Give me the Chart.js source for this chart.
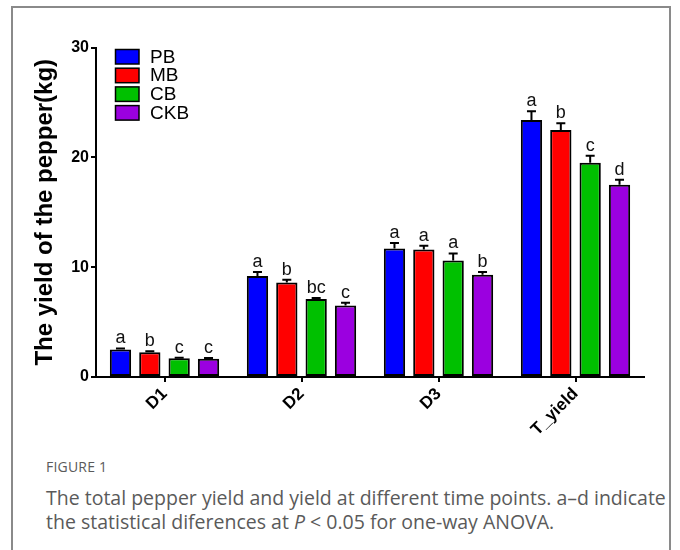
<!DOCTYPE html>
<html>
<head>
<meta charset="utf-8">
<script src="https://cdn.jsdelivr.net/npm/chart.js@4.4.1/dist/chart.umd.min.js"></script>
<style>
  html, body { margin: 0; padding: 0; background: #fff; }
  body { width: 680px; height: 550px; position: relative; overflow: hidden; }
  #frame {
    position: absolute; left: 11px; top: 6px; width: 660px; height: 560px;
    border: 2px solid #8a8a8a; box-sizing: border-box;
  }
  #chart { position: absolute; left: 0; top: 0; }
  #caption {
    position: absolute; left: 46px; top: 457px; width: 625px;
    font-family: "Open Sans", "Noto Sans", sans-serif; color: #5a5a5a;
  }
  #caption .fig { font-size: 14px; letter-spacing: 0.2px; line-height: 20px; }
  #caption .txt { font-size: 19.5px; line-height: 24px; margin-top: 9px; white-space: nowrap; }
</style>
</head>
<body>
<div id="frame"></div>
<canvas id="chart" width="680" height="440"></canvas>
<div id="caption">
  <div class="fig">FIGURE 1</div>
  <div class="txt">The total pepper yield and yield at different time points. a–d indicate<br>the statistical diferences at <i>P</i> &lt; 0.05 for one-way ANOVA.</div>
</div>
<script>
// Harvest periods and treatments
const categories = ["D1", "D2", "D3", "T_yield"];
const treatments = ["PB", "MB", "CB", "CKB"];
const colors = ["#0000ff", "#ff0000", "#00c000", "#9b00e0"];

// Mean yield (kg)
const pbValues  = [2.5, 9.2, 11.7, 23.4];
const mbValues  = [2.25, 8.6, 11.6, 22.5];
const cbValues  = [1.7, 7.1, 10.6, 19.5];
const ckbValues = [1.67, 6.5, 9.3, 17.5];

// Standard error (upper whisker)
const pbErrors  = [0.1, 0.35, 0.5, 0.8];
const mbErrors  = [0.1, 0.25, 0.35, 0.6];
const cbErrors  = [0.05, 0.1, 0.65, 0.65];
const ckbErrors = [0.07, 0.27, 0.25, 0.45];

// Significance letters (one-way ANOVA, P < 0.05)
const pbLetters  = ["a", "a", "a", "a"];
const mbLetters  = ["b", "b", "a", "b"];
const cbLetters  = ["c", "bc", "a", "c"];
const ckbLetters = ["c", "c", "b", "d"];

const yTicks = [0, 10, 20, 30];

const seriesValues = [pbValues, mbValues, cbValues, ckbValues];
const seriesErrors = [pbErrors, mbErrors, cbErrors, ckbErrors];
const seriesLetters = [pbLetters, mbLetters, cbLetters, ckbLetters];

const FONT = '"Liberation Sans", Arial, Helvetica, sans-serif';

// Whiskers with caps, and letters above them
const errorBarPlugin = {
  id: 'errorBars',
  afterDatasetsDraw(chart) {
    const ctx = chart.ctx;
    const y = chart.scales.y;
    ctx.save();
    chart.data.datasets.forEach((ds, i) => {
      const meta = chart.getDatasetMeta(i);
      meta.data.forEach((bar, j) => {
        const top = y.getPixelForValue(ds.data[j]);
        const errTop = y.getPixelForValue(ds.data[j] + ds.errors[j]);
        ctx.strokeStyle = '#000';
        ctx.lineWidth = 2;
        ctx.beginPath();
        ctx.moveTo(bar.x, top);
        ctx.lineTo(bar.x, errTop);
        ctx.moveTo(bar.x - 4.5, errTop);
        ctx.lineTo(bar.x + 4.5, errTop);
        ctx.stroke();
        ctx.fillStyle = '#111';
        ctx.font = '18px ' + FONT;
        ctx.textAlign = 'center';
        ctx.textBaseline = 'alphabetic';
        ctx.fillText(ds.letters[j], bar.x, errTop - 5);
      });
    });
    ctx.restore();
  }
};

// Legend in the upper-left of the plot
const legendPlugin = {
  id: 'boxLegend',
  afterDraw(chart) {
    const ctx = chart.ctx;
    ctx.save();
    chart.data.datasets.forEach((ds, i) => {
      const top = 49.5 + i * 18.7;
      ctx.fillStyle = ds.backgroundColor;
      ctx.fillRect(115.5, top, 23.5, 14.5);
      ctx.strokeStyle = '#000';
      ctx.lineWidth = 1.5;
      ctx.strokeRect(115.5, top, 23.5, 14.5);
      ctx.fillStyle = '#000';
      ctx.font = '19px ' + FONT;
      ctx.textAlign = 'left';
      ctx.textBaseline = 'middle';
      ctx.fillText(ds.label, 150, top + 8);
    });
    ctx.restore();
  }
};

const datasets = treatments.map((name, i) => ({
  label: name,
  data: seriesValues[i],
  errors: seriesErrors[i],
  letters: seriesLetters[i],
  backgroundColor: colors[i],
  borderColor: '#000',
  borderWidth: 2,
  borderSkipped: false,
  categoryPercentage: 0.857,
  barPercentage: 0.725
}));

new Chart(document.getElementById('chart'), {
  type: 'bar',
  data: { labels: categories, datasets },
  options: {
    responsive: false,
    animation: false,
    events: [],
    layout: { padding: { left: 0, right: 36, top: 47.5, bottom: 0 } },
    plugins: { legend: { display: false }, tooltip: { enabled: false } },
    scales: {
      x: {
        offset: true,
        grid: { offset: false, drawOnChartArea: false, drawTicks: true, tickLength: 5, color: '#000', lineWidth: 2 },
        border: { display: true, color: '#000', width: 2 },
        ticks: {
          autoSkip: false, minRotation: 45, maxRotation: 45, padding: 2,
          color: '#000', font: { family: FONT, size: 17, weight: 'bold' }
        },
        afterFit(scale) { scale.height = 63; }
      },
      y: {
        min: 0, max: 30,
        afterBuildTicks(scale) { scale.ticks = yTicks.map(v => ({ value: v })); },
        grid: { drawOnChartArea: false, drawTicks: true, tickLength: 5, color: '#000', lineWidth: 2 },
        border: { display: true, color: '#000', width: 2 },
        ticks: { padding: 2, color: '#000', font: { family: FONT, size: 16, weight: 'bold' } },
        title: {
          display: true, text: 'The yield of the pepper(kg)', color: '#000',
          font: { family: FONT, size: 24, weight: 'bold' },
          padding: { top: 30.6, bottom: 0 }
        },
        afterFit(scale) { scale.width = 96; }
      }
    }
  },
  plugins: [errorBarPlugin, legendPlugin]
});
</script>
</body>
</html>
